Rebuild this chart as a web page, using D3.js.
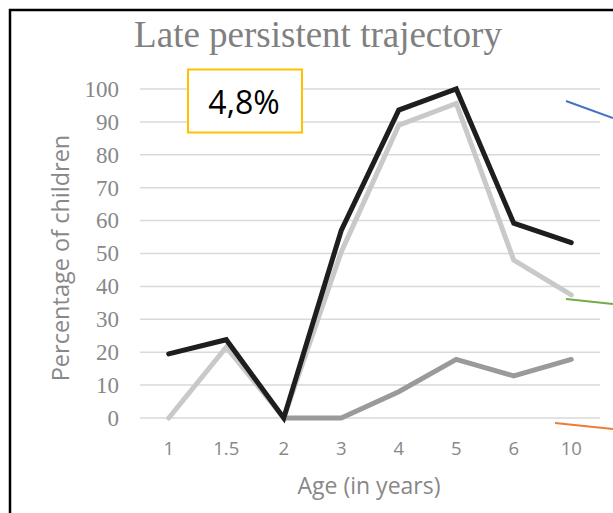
<!DOCTYPE html>
<html><head><meta charset="utf-8">
<script src="https://cdn.jsdelivr.net/npm/d3@7"></script>
<style>html,body{margin:0;padding:0;background:#fff;}</style>
</head><body>
<svg id="c" width="613" height="513"></svg>
<script>
const categories = ["1","1.5","2","3","4","5","6","10"];
const seriesBlack = [19.5, 23.8, 0, 57, 93.6, 100, 59.2, 53.3];
const seriesLight = [0, 21.5, 0, 50.5, 89, 95.6, 48, 37.4];
const seriesDark = [null, null, 0, 0, 8, 17.8, 12.8, 17.8];
const yTicks = [0,10,20,30,40,50,60,70,80,90,100];
const titleText = "Late persistent trajectory";
const boxText = "4,8%";

const svg = d3.select("#c");
const x = d3.scaleBand().domain(categories).range([140, 600]);
const y = d3.scaleLinear().domain([0,100]).range([418, 89]);
const cx = d => x(d) + x.bandwidth()/2;

// outer border (cropped chart frame)
svg.append("path").attr("d","M10,513 L10,10 L613,10")
  .attr("fill","none").attr("stroke","#000").attr("stroke-width",2.5);

// title
svg.append("text").attr("x",318).attr("y",47).attr("text-anchor","middle")
  .attr("font-family","Liberation Serif").attr("font-size",37).attr("fill","#808080")
  .text(titleText);

// gridlines
svg.append("g").selectAll("line").data(yTicks).join("line")
  .attr("x1",140).attr("x2",600).attr("y1",d=>y(d)).attr("y2",d=>y(d))
  .attr("stroke","#d9d9d9").attr("stroke-width",1.5);

// y axis
const yAxis = svg.append("g").attr("transform","translate(140,0)")
  .call(d3.axisLeft(y).tickValues(yTicks).tickSize(0).tickPadding(21));
yAxis.select(".domain").remove();
yAxis.selectAll("text").attr("font-family","Liberation Serif").attr("font-size",23).attr("fill","#888");

// x axis
const xAxis = svg.append("g").attr("transform","translate(0,418)")
  .call(d3.axisBottom(x).tickSize(0).tickPadding(24));
xAxis.select(".domain").remove();
xAxis.selectAll("text").attr("font-family","Open Sans").attr("font-size",18.5).attr("fill","#888");

// axis titles
svg.append("text").attr("x",369).attr("y",494).attr("text-anchor","middle")
  .attr("font-family","Open Sans").attr("font-size",23).attr("fill","#888").text("Age (in years)");
svg.append("text").attr("transform","translate(68.5,258) rotate(-90)").attr("text-anchor","middle")
  .attr("font-family","Open Sans").attr("font-size",23.5).attr("fill","#888").text("Percentage of children");

// lines
const line = d3.line().defined(d=>d.v!==null).x(d=>cx(d.c)).y(d=>y(d.v));
const mk = arr => categories.map((c,i)=>({c, v:arr[i]}));
[[seriesDark,"#999a9c"],[seriesLight,"#c9c9c9"],[seriesBlack,"#1e1e1e"]].forEach(([arr,col])=>{
  svg.append("path").datum(mk(arr)).attr("d",line).attr("fill","none")
    .attr("stroke",col).attr("stroke-width",5).attr("stroke-linejoin","miter").attr("stroke-linecap","round");
});

// label box
svg.append("rect").attr("x",188).attr("y",69.5).attr("width",114).attr("height",63)
  .attr("fill","#fff").attr("stroke","#ffc000").attr("stroke-width",2);
svg.append("text").attr("x",244).attr("y",114).attr("text-anchor","middle")
  .attr("font-family","Open Sans").attr("font-size",32).attr("fill","#000").text(boxText);

// leader lines from neighbouring panel (decorative)
const leaders = [
  {x1:566,y1:101,x2:613,y2:118,c:"#4472c4"},
  {x1:566,y1:299,x2:613,y2:304,c:"#70ad47"},
  {x1:555,y1:423,x2:613,y2:429,c:"#ed7d31"}
];
svg.append("g").selectAll("line").data(leaders).join("line")
  .attr("x1",d=>d.x1).attr("y1",d=>d.y1).attr("x2",d=>d.x2).attr("y2",d=>d.y2)
  .attr("stroke",d=>d.c).attr("stroke-width",2);
</script>
</body></html>
